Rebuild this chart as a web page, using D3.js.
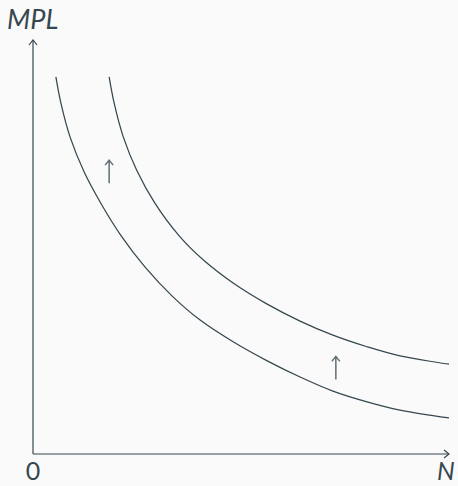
<!DOCTYPE html>
<html>
<head>
<meta charset="utf-8">
<script src="https://cdn.jsdelivr.net/npm/d3@7"></script>
<style>
  html, body { margin: 0; padding: 0; background: #fafafa; }
  svg { display: block; }
</style>
</head>
<body>
<svg id="chart" width="458" height="486"></svg>
<script>
// ---- data (abstract units 0..10) ----
const lowerN   = [0.55, 0.67, 0.89, 1.23, 1.64, 2.12, 2.69, 3.34, 4.01, 4.81, 5.63, 6.42, 7.21, 8.03, 8.82, 10.0];
const lowerMPL = [9.11, 8.48, 7.66, 6.81, 6.04, 5.27, 4.52, 3.82, 3.24, 2.71, 2.25, 1.86, 1.52, 1.26, 1.06, 0.87];
const upperN   = [1.83, 1.95, 2.17, 2.49, 2.93, 3.53, 4.09, 4.81, 5.63, 6.42, 7.21, 8.03, 8.82, 10.0];
const upperMPL = [9.11, 8.48, 7.66, 6.86, 6.06, 5.25, 4.69, 4.13, 3.62, 3.21, 2.87, 2.59, 2.37, 2.17];
const shiftArrowN   = [1.83, 7.28];
const shiftArrowMPL = [6.82, 2.08];
const axisLabels = { y: "MPL", x: "N", origin: "0" };

const color = "#37474f";
const svg = d3.select("#chart");
const x = d3.scaleLinear().domain([0, 10]).range([33, 449]);
const y = d3.scaleLinear().domain([0, 10]).range([454, 40]);

// axes
svg.append("line").attr("x1", x(0)).attr("y1", y(0)).attr("x2", x(0)).attr("y2", y(10))
  .attr("stroke", color).attr("stroke-width", 1.2);
svg.append("line").attr("x1", x(0)).attr("y1", y(0)).attr("x2", x(10)).attr("y2", y(0))
  .attr("stroke", color).attr("stroke-width", 1.2);
// arrowheads
svg.append("path")
  .attr("d", `M${x(0)-4},${y(10)+5} L${x(0)},${y(10)} L${x(0)+4},${y(10)+5}`)
  .attr("fill", "none").attr("stroke", color).attr("stroke-width", 1.2);
svg.append("path")
  .attr("d", `M${x(10)-5},${y(0)-4} L${x(10)},${y(0)} L${x(10)-5},${y(0)+4}`)
  .attr("fill", "none").attr("stroke", color).attr("stroke-width", 1.2);

// curves
const line = d3.line().x(d => x(d[0])).y(d => y(d[1])).curve(d3.curveCatmullRom.alpha(0.5));
const lower = lowerN.map((n, i) => [n, lowerMPL[i]]);
const upper = upperN.map((n, i) => [n, upperMPL[i]]);
[lower, upper].forEach(c => {
  svg.append("path").attr("d", line(c)).attr("fill", "none")
    .attr("stroke", color).attr("stroke-width", 1.25);
});

// shift arrows (upward shift of the curve)
shiftArrowN.forEach((n, i) => {
  const cx = x(n), cy = y(shiftArrowMPL[i]);
  svg.append("path")
    .attr("d", `M${cx},${cy + 11.5} L${cx},${cy - 11.5} M${cx - 4},${cy - 6.5} L${cx},${cy - 11.5} L${cx + 4},${cy - 6.5}`)
    .attr("fill", "none").attr("stroke", "#5f6f76").attr("stroke-width", 1.5);
});

// labels
const lblFont = "Lato, 'Open Sans', sans-serif";
svg.append("text").attr("x", 7).attr("y", 29).attr("font-family", lblFont)
  .attr("font-style", "italic").attr("font-size", 27)
  .attr("fill", color).text(axisLabels.y);
svg.append("text").attr("x", x(0)).attr("y", 480).attr("text-anchor", "middle")
  .attr("font-family", lblFont).attr("font-size", 25)
  .attr("fill", color).text(axisLabels.origin);
svg.append("text").attr("x", 437).attr("y", 480).attr("font-family", lblFont)
  .attr("font-style", "italic").attr("font-size", 25)
  .attr("fill", color).text(axisLabels.x);
</script>
</body>
</html>
